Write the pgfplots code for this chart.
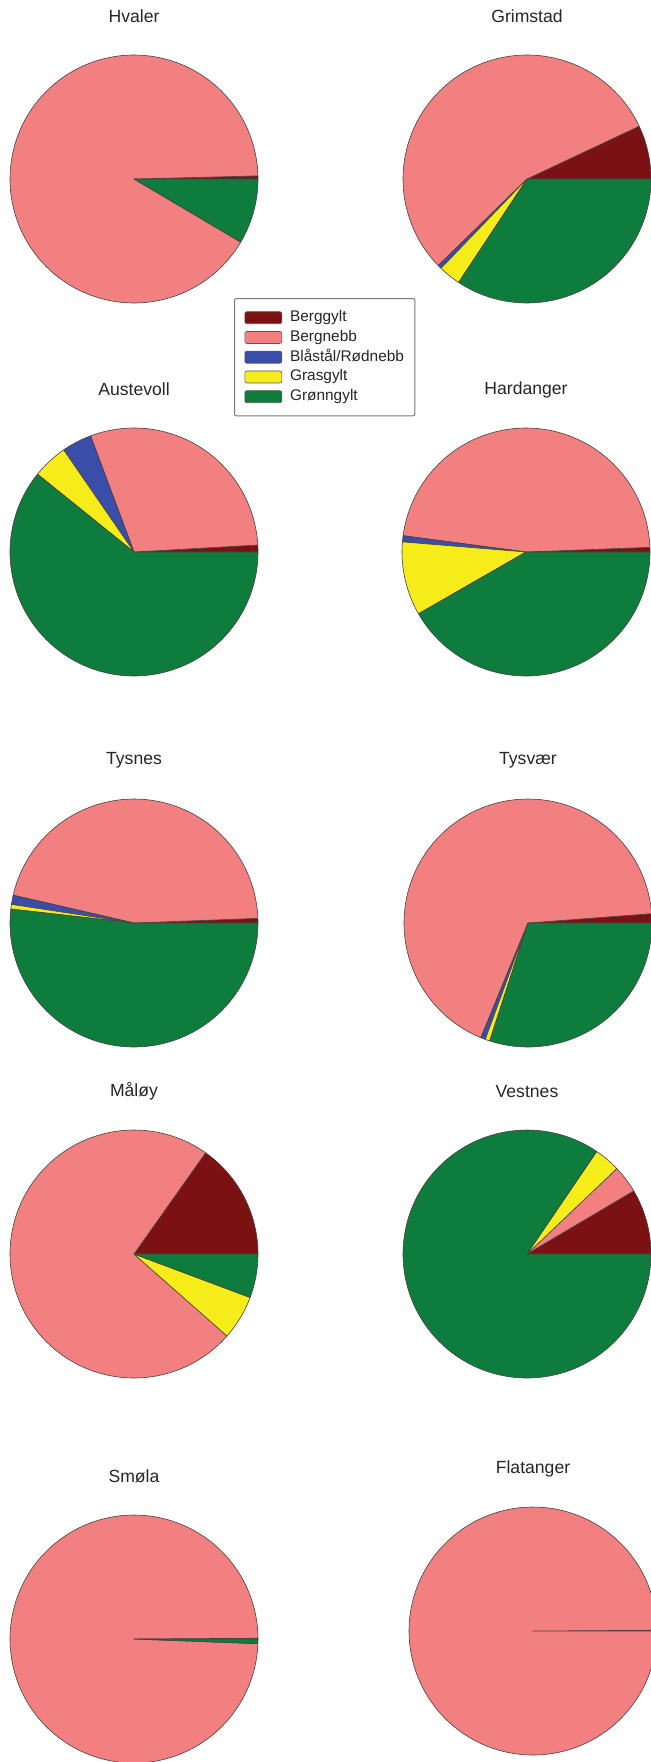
\documentclass[border=0pt]{standalone}
\usepackage{pgfplots}
\pgfplotsset{compat=1.18}
\usepackage{pgfplotstable}
\usepackage{fontspec}
\setmainfont{Liberation Sans}

\definecolor{cBerggylt}{HTML}{7B1113}
\definecolor{cBergnebb}{HTML}{F28080}
\definecolor{cBlastal}{HTML}{3A4DA8}
\definecolor{cGrasgylt}{HTML}{F5EC1A}
\definecolor{cGronngylt}{HTML}{0E7C3D}
\definecolor{edgec}{HTML}{4A4040}
\definecolor{titlec}{HTML}{262626}
\definecolor{legc}{HTML}{7A7A7A}

% shares (percent) per site
\pgfplotstableread{
site      Berggylt Bergnebb Blastal Grasgylt Gronngylt
Hvaler    0.4      91.1     0       0        8.5
Grimstad  7.0      55.3     0.5     2.9      34.3
Austevoll 0.9      29.8     3.9     4.6      60.8
Hardanger 0.6      47.3     0.8     9.6      41.7
Tysnes    0.6      45.8     1.2     0.6      51.8
Tysvaer   1.2      67.6     0.6     0.6      30.0
Maloy     15.2     73.3     0       5.8      5.7
Vestnes   8.5      3.6      0       3.4      84.5
Smola     0.1      99.3     0       0        0.6
Flatanger 0.1      99.9     0       0        0
}\sites

\pgfplotsset{pieax/.style={hide axis, scale only axis, width=124pt, height=124pt,
  xmin=-1, xmax=1, ymin=-1, ymax=1, clip=false, anchor=center}}

\newcommand\sector[2]{%
  \pgfmathsetmacro\angA{\acc}%
  \pgfmathsetmacro\angB{\acc+3.6*(#1*100/\tot)}%
  \pgfmathtruncatemacro\ns{max(2,ceil((\angB-\angA)/2)+1)}%
  \ifdim #1pt>0pt
    \edef\doit{\noexpand\addplot[draw=edgec, line width=0.3pt, line join=round,
      fill=#2, domain=\angA:\angB, samples=\ns] ({cos(x)},{sin(x)}) -- (axis cs:0,0) -- cycle;}%
    \doit
  \fi
  \let\acc\angB
}

\newcommand\drawpie[4]{% row, cx px, cy px, title
  \begin{axis}[pieax, at={(#2*0.5pt,-#3*0.5pt)}]
    \pgfplotstablegetelem{#1}{Berggylt}\of\sites\edef\vA{\pgfplotsretval}%
    \pgfplotstablegetelem{#1}{Bergnebb}\of\sites\edef\vB{\pgfplotsretval}%
    \pgfplotstablegetelem{#1}{Blastal}\of\sites\edef\vC{\pgfplotsretval}%
    \pgfplotstablegetelem{#1}{Grasgylt}\of\sites\edef\vD{\pgfplotsretval}%
    \pgfplotstablegetelem{#1}{Gronngylt}\of\sites\edef\vE{\pgfplotsretval}%
    \pgfmathsetmacro\tot{\vA+\vB+\vC+\vD+\vE}%
    \def\acc{0}%
    \sector{\vA}{cBerggylt}%
    \sector{\vB}{cBergnebb}%
    \sector{\vC}{cBlastal}%
    \sector{\vD}{cGrasgylt}%
    \sector{\vE}{cGronngylt}%
    \node[font=\fontsize{8.8}{10}\selectfont, text=titlec] at (axis cs:0,1.31) {#4};
  \end{axis}}

\begin{document}
\begin{tikzpicture}
\fill[white] (0,0) rectangle (325.5pt,-881pt);
\useasboundingbox (0,0) rectangle (325.5pt,-881pt);

\drawpie{0}{134}{179}{Hvaler}
\drawpie{1}{527}{179}{Grimstad}
\drawpie{2}{134}{552}{Austevoll}
\drawpie{3}{526}{552}{Hardanger}
\drawpie{4}{134}{923}{Tysnes}
\drawpie{5}{528}{923}{Tysvær}
\drawpie{6}{134}{1254}{Måløy}
\drawpie{7}{527}{1254}{Vestnes}
\drawpie{8}{134}{1639}{Smøla}
\drawpie{9}{533}{1631}{Flatanger}

\begin{axis}[hide axis, scale only axis, width=10pt, height=10pt,
  xmin=0, xmax=1, ymin=0, ymax=1, at={(117pt,-149pt)}, anchor=north west,
  legend image code/.code={\draw[#1, draw=gray!70!black, line width=0.3pt] (0pt,-3pt) rectangle (18.5pt,3pt);},
  legend cell align=left,
  legend style={at={(0,1)}, anchor=north west, draw=legc, line width=0.5pt,
    rounded corners=1pt, fill=white,
    font=\fontsize{7.7}{9}\selectfont, text=titlec,
    inner xsep=5pt, inner ysep=5.5pt, row sep=1.675pt,
    nodes={inner sep=0.5pt, text height=5.6pt, text depth=1.6pt},
    /tikz/every odd column/.append style={column sep=3.5pt}}]
\addlegendimage{fill=cBerggylt}\addlegendentry{Berggylt}
\addlegendimage{fill=cBergnebb}\addlegendentry{Bergnebb}
\addlegendimage{fill=cBlastal}\addlegendentry{Blåstål/Rødnebb}
\addlegendimage{fill=cGrasgylt}\addlegendentry{Grasgylt}
\addlegendimage{fill=cGronngylt}\addlegendentry{Grønngylt}
\end{axis}
\end{tikzpicture}
\end{document}
